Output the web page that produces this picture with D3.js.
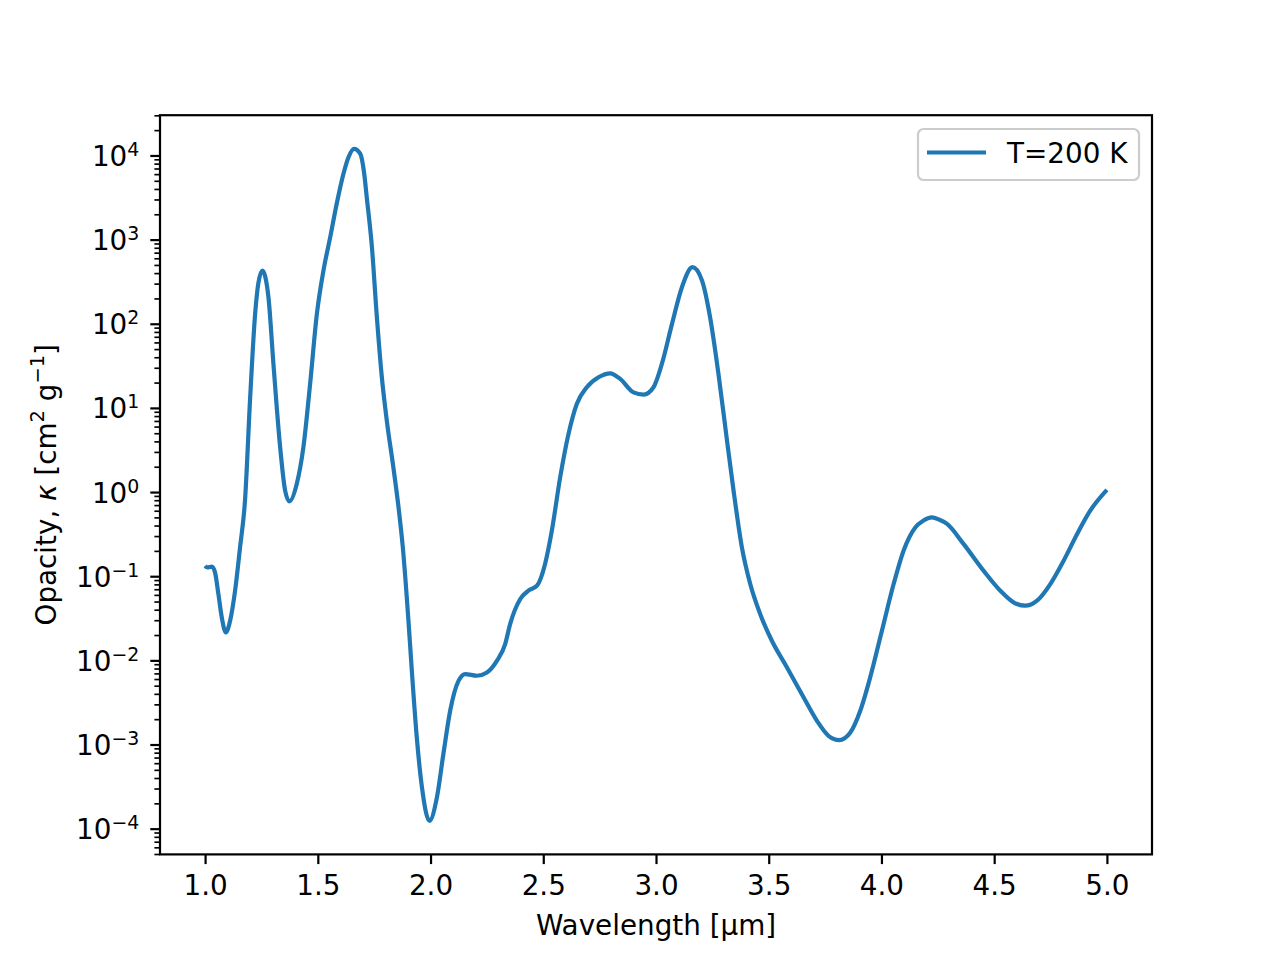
<!DOCTYPE html>
<html>
<head>
<meta charset="utf-8">
<script src="https://cdn.jsdelivr.net/npm/d3@7"></script>
<style>
  body { margin: 0; background: #fff; }
  svg { display: block; font-family: "DejaVu Sans", sans-serif; }
</style>
</head>
<body>
<svg width="1280" height="960"></svg>
<script>
'use strict';

// wavelength in micron, opacity in cm^2/g
const wavelength = [
  1.000, 1.010, 1.030, 1.044, 1.059, 1.074, 1.092, 1.111, 1.133, 1.155,
  1.177, 1.200, 1.222, 1.236, 1.254, 1.281, 1.303, 1.333, 1.355, 1.374,
  1.407, 1.436, 1.466, 1.496, 1.525, 1.555, 1.584, 1.614, 1.636, 1.661,
  1.688, 1.705, 1.717, 1.740, 1.762, 1.784, 1.806, 1.835, 1.858, 1.877, 1.902,
  1.917, 1.939, 1.962, 1.995, 2.028, 2.057, 2.087, 2.124, 2.154, 2.205,
  2.250, 2.294, 2.331, 2.353, 2.398, 2.434, 2.472, 2.508, 2.538, 2.575,
  2.612, 2.649, 2.693, 2.745, 2.797, 2.841, 2.900, 2.945, 2.989, 3.026,
  3.071, 3.115, 3.162, 3.204, 3.240, 3.277, 3.315, 3.344, 3.381, 3.418,
  3.462, 3.514, 3.581, 3.655, 3.714, 3.765, 3.813, 3.862, 3.906, 3.950,
  4.002, 4.054, 4.098, 4.150, 4.185, 4.224, 4.255, 4.291, 4.364, 4.453, 4.527, 4.586,
  4.638, 4.690, 4.749, 4.808, 4.868, 4.926, 5.000
];
const opacity = [
  0.133, 0.127, 0.130, 0.111, 0.0614, 0.0324, 0.0215, 0.0296, 0.0673, 0.220,
  0.791, 13.4, 132, 301, 429, 207, 33.6, 3.40, 1.04, 0.775,
  1.26, 3.40, 19.5, 132, 429, 1069, 2690, 6110, 9540, 12000,
  10500, 6300, 3190, 813, 119, 23.1, 7.06, 1.97, 0.658, 0.220, 0.0296,
  0.00752, 0.00121, 3.08e-4, 1.24e-4, 2.34e-4, 7.74e-4, 0.00252, 0.00571, 0.00687, 0.00656,
  0.00718, 0.00988, 0.0156, 0.0270, 0.0536, 0.0673, 0.0771, 0.140, 0.348, 1.50,
  4.91, 11.2, 17.6, 23.1, 25.8, 22.1, 15.3, 14.4, 17.6, 33.3,
  99.7, 272, 470, 327, 119, 25.4, 4.08, 1.04, 0.220, 0.0807,
  0.0356, 0.0171, 0.00824, 0.00362, 0.00191, 0.00127, 0.00113, 0.00139, 0.00252, 0.00627,
  0.0225, 0.0807, 0.201, 0.380, 0.457, 0.500, 0.472, 0.418, 0.242, 0.116, 0.0673, 0.0489,
  0.0446, 0.0512, 0.0807, 0.153, 0.318, 0.601, 1.06
];

const xTicks = [1.0, 1.5, 2.0, 2.5, 3.0, 3.5, 4.0, 4.5, 5.0];
const yExponents = [-4, -3, -2, -1, 0, 1, 2, 3, 4];
const seriesLabel = "T=200 K";

class Plot {
  constructor(xs, ys) {
    this.svg = d3.select("svg");
    this.left = 160; this.right = 1152;
    this.top = 115.2; this.bottom = 854.4;
    this.fs = 27.8;          // 10pt at 200 dpi
    this.color = "#1f77b4";
    this.data = xs.map((d, i) => ({ w: d, k: ys[i] }));
  }

  draw() {
    this.createScales();
    this.drawLine();
    this.drawAxisX();
    this.drawAxisY();
    this.drawFrame();
    this.drawLegend();
  }

  createScales() {
    // 5% margins like matplotlib autoscale
    const xe = d3.extent(this.data, d => d.w);
    const xm = (xe[1] - xe[0]) * 0.05;
    this.x = d3.scaleLinear().domain([xe[0] - xm, xe[1] + xm]).range([this.left, this.right]);

    const le = d3.extent(this.data, d => Math.log10(d.k));
    const lm = (le[1] - le[0]) * 0.05;
    this.y = d3.scaleLog()
      .domain([Math.pow(10, le[0] - lm), Math.pow(10, le[1] + lm)])
      .range([this.bottom, this.top]);
  }

  drawLine() {
    const line = d3.line()
      .x(d => this.x(d.w))
      .y(d => this.y(d.k))
      .curve(d3.curveMonotoneX);

    this.svg.append("path")
      .datum(this.data)
      .attr("fill", "none")
      .attr("stroke", this.color)
      .attr("stroke-width", 4.2)
      .attr("stroke-linejoin", "round")
      .attr("d", line);
  }

  drawAxisX() {
    const ax = d3.axisBottom(this.x)
      .tickValues(xTicks)
      .tickFormat(d3.format(".1f"))
      .tickSize(9.7)
      .tickPadding(11.5);

    const g = this.svg.append("g")
      .attr("transform", "translate(0," + this.bottom + ")")
      .call(ax);
    g.select(".domain").remove();
    g.selectAll(".tick line").attr("stroke", "#000").attr("stroke-width", 2.2);
    g.selectAll(".tick text")
      .attr("fill", "#000")
      .attr("font-size", this.fs)
      .attr("font-family", "DejaVu Sans");

    this.svg.append("text")
      .attr("x", (this.left + this.right) / 2)
      .attr("y", 935)
      .attr("text-anchor", "middle")
      .attr("font-size", this.fs)
      .text("Wavelength [\u03bcm]");
  }

  drawAxisY() {
    const dom = this.y.domain();
    const majors = yExponents.map(e => Math.pow(10, e));
    const minors = [];
    d3.range(-5, 5).forEach(e => {
      d3.range(2, 10).forEach(m => {
        const v = m * Math.pow(10, e);
        if (v >= dom[0] && v <= dom[1]) minors.push(v);
      });
    });

    const minorAx = d3.axisLeft(this.y).tickValues(minors).tickFormat("").tickSize(5.6);
    const gm = this.svg.append("g")
      .attr("transform", "translate(" + this.left + ",0)")
      .call(minorAx);
    gm.select(".domain").remove();
    gm.selectAll(".tick line").attr("stroke", "#000").attr("stroke-width", 1.67);

    const majorAx = d3.axisLeft(this.y).tickValues(majors).tickFormat("").tickSize(9.7).tickPadding(11);
    const g = this.svg.append("g")
      .attr("transform", "translate(" + this.left + ",0)")
      .call(majorAx);
    g.select(".domain").remove();
    g.selectAll(".tick line").attr("stroke", "#000").attr("stroke-width", 2.2);

    const fs = this.fs;
    g.selectAll(".tick text")
      .attr("fill", "#000")
      .attr("font-size", fs)
      .attr("font-family", "DejaVu Sans")
      .attr("dy", "0.36em")
      .each(function(d) {
        const t = d3.select(this);
        const e = Math.round(Math.log10(d));
        t.append("tspan").text("10");
        t.append("tspan")
          .attr("dy", -0.36 * fs)
          .attr("font-size", fs * 0.68)
          .text(String(e).replace("-", "\u2212"));
      });

    // y label with superscripts
    const lab = this.svg.append("text")
      .attr("transform", "translate(56,484.8) rotate(-90)")
      .attr("text-anchor", "middle")
      .attr("font-size", fs);
    lab.append("tspan").text("Opacity, ");
    lab.append("tspan").attr("font-style", "italic").text("\u03ba");
    lab.append("tspan").text(" [cm");
    lab.append("tspan").attr("dy", -0.42 * fs).attr("font-size", fs * 0.7).text("2");
    lab.append("tspan").attr("dy", 0.42 * fs).text(" g");
    lab.append("tspan").attr("dy", -0.42 * fs).attr("font-size", fs * 0.7).text("\u22121");
    lab.append("tspan").attr("dy", 0.42 * fs).text("]");
  }

  drawFrame() {
    this.svg.append("rect")
      .attr("x", this.left)
      .attr("y", this.top)
      .attr("width", this.right - this.left)
      .attr("height", this.bottom - this.top)
      .attr("fill", "none")
      .attr("stroke", "#000")
      .attr("stroke-width", 2.2);
  }

  drawLegend() {
    const lg = this.svg.append("g").attr("transform", "translate(918,129)");
    lg.append("rect")
      .attr("width", 221)
      .attr("height", 51)
      .attr("rx", 5.6)
      .attr("fill", "#fff")
      .attr("fill-opacity", 0.8)
      .attr("stroke", "#cccccc")
      .attr("stroke-width", 2.2);
    lg.append("line")
      .attr("x1", 9).attr("x2", 68)
      .attr("y1", 23.5).attr("y2", 23.5)
      .attr("stroke", this.color)
      .attr("stroke-width", 4.2);
    lg.append("text")
      .attr("x", 89)
      .attr("y", 33.5)
      .attr("font-size", this.fs)
      .text(seriesLabel);
  }
}

const plot = new Plot(wavelength, opacity);
plot.draw();
</script>
</body>
</html>
